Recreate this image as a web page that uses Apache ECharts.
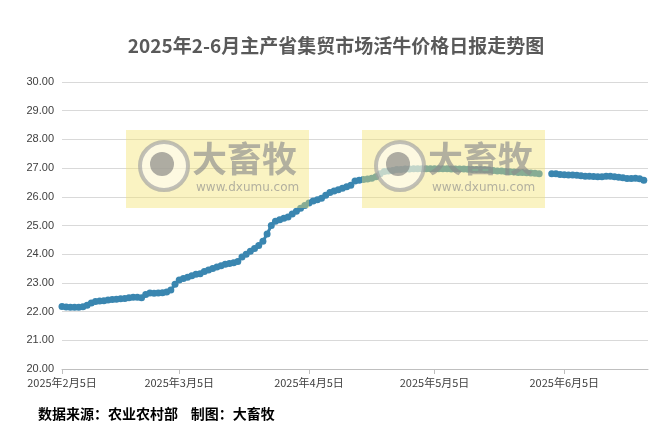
<!DOCTYPE html>
<html><head><meta charset="utf-8">
<script src="https://cdn.jsdelivr.net/npm/echarts@6/dist/echarts.min.js"></script>
<style>html,body{margin:0;padding:0;background:#fff}#c{width:672px;height:436px}</style>
</head><body><div id="c"></div>
<script>
const startDate = '2025-02-05';
const febVals = [22.18,22.16,22.15,22.15,22.15,22.17,22.22,22.3,22.35,22.37,22.38,22.4,22.42,22.43,22.45,22.46,22.48,22.5,22.5,22.48,22.6,22.65,22.64,22.65];
const marVals = [22.66,22.68,22.75,22.95,23.1,23.15,23.2,23.25,23.3,23.32,23.4,23.45,23.5,23.55,23.6,23.65,23.68,23.7,23.75,23.9,24.0,24.1,24.2,24.3,24.45,24.7,25.0,25.15,25.2,25.25,25.3];
const aprVals = [25.4,25.5,25.6,25.7,25.78,25.85,25.9,25.95,26.05,26.15,26.2,26.25,26.3,26.35,26.4,26.55,26.58,26.6,26.62,26.65,26.7,26.8,26.88,26.9,26.92,26.95,26.95,26.97,26.97,26.98];
const mayVals = [26.98,26.98,26.98,26.98,26.98,26.98,26.98,26.98,26.97,26.97,26.97,26.97,26.96,26.95,26.95,26.95,26.94,26.93,26.92,26.9,26.9,26.88,26.87,26.86,26.85,26.85,26.84,26.83,26.82,26.8,null];
const junVals = [null,26.8,26.8,26.78,26.77,26.76,26.76,26.75,26.73,26.72,26.72,26.71,26.7,26.7,26.72,26.72,26.7,26.68,26.66,26.64,26.64,26.65,26.63,26.58];
const tickDates = ['2025-02-05','2025-03-05','2025-04-05','2025-05-05','2025-06-05'];
const yTicks = [20,21,22,23,24,25,26,27,28,29,30];

const allVals = febVals.concat(marVals, aprVals, mayVals, junVals);
const DAY = 86400000;
const t0 = Date.UTC(2025,1,5);
const data = allVals.map((v,i)=>[i, v]);
const tickIdx = tickDates.map(d=>{const p=d.split('-').map(Number);return Math.round((Date.UTC(p[0],p[1]-1,p[2])-t0)/DAY);});

function mark(x){
  return [
    {type:'rect',left:x,top:130,shape:{width:183,height:78},style:{fill:'rgba(242,226,110,0.42)'},z:100},
    {type:'circle',left:x+12,top:140,shape:{r:24},style:{fill:'rgba(255,255,255,0.5)',stroke:'rgba(160,160,160,0.65)',lineWidth:4},z:101},
    {type:'circle',left:x+24,top:152,shape:{r:12},style:{fill:'rgba(120,120,120,0.6)'},z:102},
    {type:'text',left:x+66,top:141,style:{text:'大畜牧',fill:'rgba(140,140,140,0.65)',font:'bold 35px "Noto Sans CJK SC"'},z:101},
    {type:'text',left:x+70,top:182,style:{text:'www.dxumu.com',fill:'rgba(140,140,140,0.65)',font:'12px "DejaVu Sans"'},z:101}
  ];
}

const chart = echarts.init(document.getElementById('c'));
chart.setOption({
  animation:false,
  title:{text:'2025年2-6月主产省集贸市场活牛价格日报走势图',left:'center',top:31,textStyle:{fontSize:19,fontWeight:'bold',color:'#595959',fontFamily:'"Noto Sans CJK SC"'}},
  grid:{left:62,right:24,top:82,bottom:67,containLabel:false},
  xAxis:{type:'value',min:0,max:140,
    axisLine:{onZero:false,lineStyle:{color:'#bfbfbf'}},
    axisTick:{show:true,customValues:tickIdx,lineStyle:{color:'#bfbfbf'}},
    splitLine:{show:false},
    axisLabel:{customValues:tickIdx,color:'#404040',fontSize:11,fontFamily:'"Noto Sans CJK SC"',
      formatter:v=>{const d=new Date(t0+v*DAY);return d.getUTCFullYear()+'年'+(d.getUTCMonth()+1)+'月'+d.getUTCDate()+'日';}}},
  yAxis:{type:'value',min:yTicks[0],max:yTicks[yTicks.length-1],interval:1,
    axisLine:{show:false},axisTick:{show:false},
    splitLine:{lineStyle:{color:'#d9d9d9'}},
    axisLabel:{color:'#404040',fontSize:11,formatter:v=>v.toFixed(2)}},
  series:[{type:'line',data:data,connectNulls:false,symbol:'circle',symbolSize:7,showAllSymbol:true,
    itemStyle:{color:'#3a86b0'},lineStyle:{color:'#3a86b0',width:3}}],
  graphic:[...mark(126),...mark(362),
    {type:'text',left:38,top:407,style:{text:'数据来源：农业农村部    制图：大畜牧',fill:'#000',font:'bold 14px "Noto Sans CJK SC"'}}]
});
</script></body></html>
